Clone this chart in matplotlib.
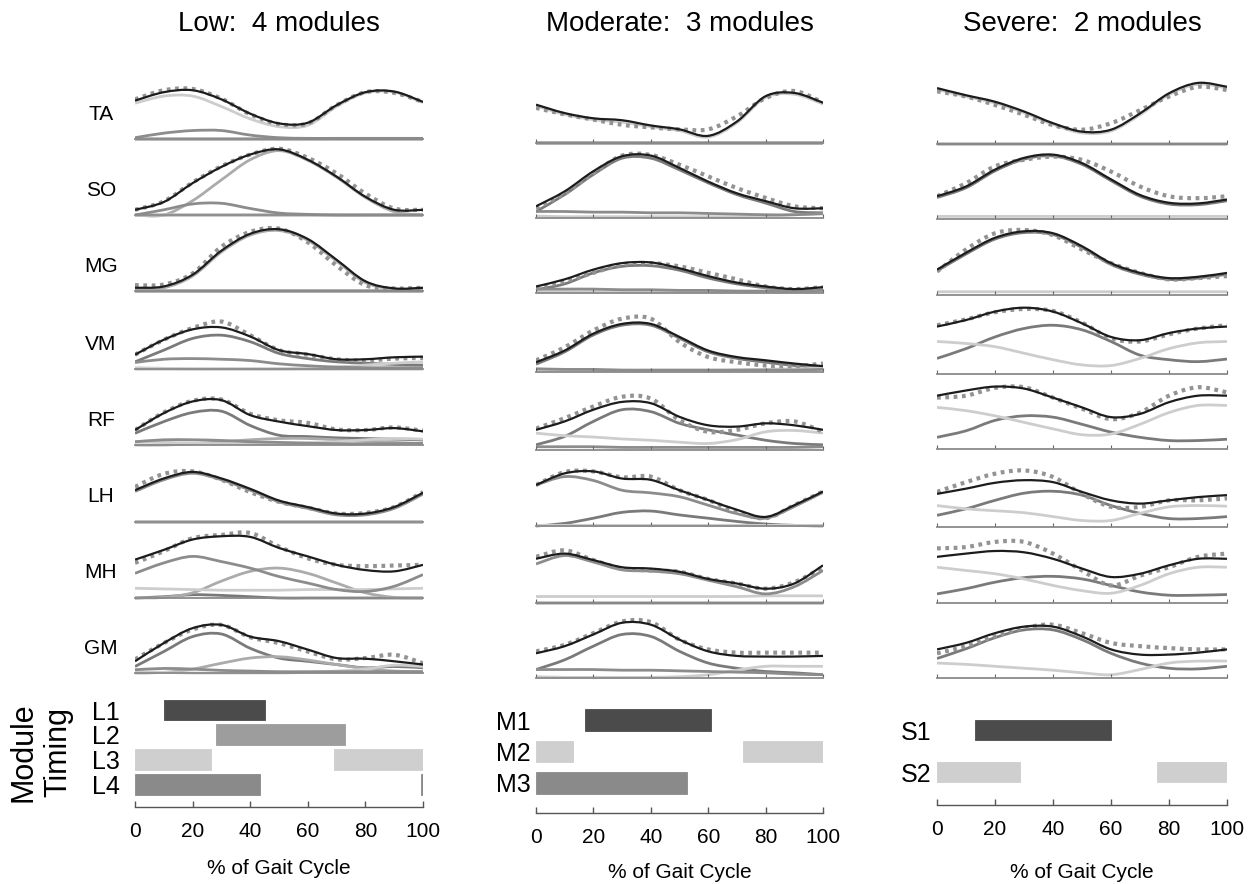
"""Muscle EMG reconstruction by motor modules, three impairment levels."""

import matplotlib

matplotlib.use("Agg")
import matplotlib.pyplot as plt
import numpy as np
from matplotlib.patches import PathPatch
from matplotlib.path import Path

plt.rcParams["font.family"] = ["Liberation Sans", "DejaVu Sans"]

MUSCLES = ["TA", "SO", "MG", "VM", "RF", "LH", "MH", "GM"]
PCT = [0, 10, 20, 30, 40, 50, 60, 70, 80, 90, 100]
TICKS = [0, 20, 40, 60, 80, 100]

# ---- Low: 4 modules (EMG = measured, FIT = reconstruction, MODS = L1..L4) ----
LOW_TA_EMG = [.61, .75, .77, .62, .38, .23, .24, .52, .72, .71, .57]
LOW_TA_FIT = [.59, .72, .75, .61, .39, .24, .25, .52, .72, .73, .57]
LOW_TA_MODS = [[0, 0, 0, 0, 0, 0, 0, 0, 0, 0, 0],
               [0, 0, 0, 0, 0, 0, 0, 0, 0, 0, 0],
               [.55, .66, .66, .50, .31, .19, .21, .50, .71, .72, .56],
               [.02, .09, .13, .13, .06, .02, .01, .01, .01, .01, .01]]
LOW_SO_EMG = [.08, .21, .50, .75, .93, 1.02, .88, .64, .33, .10, .08]
LOW_SO_FIT = [.08, .20, .49, .74, .93, 1.01, .85, .59, .28, .08, .08]
LOW_SO_MODS = [[0, 0, 0, 0, 0, 0, 0, 0, 0, 0, 0],
               [0, 0, .22, .54, .85, .99, .84, .58, .27, .05, 0],
               [0, 0, 0, 0, 0, 0, 0, 0, 0, 0, 0],
               [0, .08, .17, .18, .10, .03, .01, 0, 0, 0, 0]]
LOW_MG_EMG = [.09, .10, .27, .68, .91, .96, .75, .39, .09, .04, .05]
LOW_MG_FIT = [.05, .07, .25, .62, .88, .95, .80, .48, .15, .04, .05]
LOW_MG_MODS = [[0, 0, 0, 0, 0, 0, 0, 0, 0, 0, 0],
               [.03, .05, .23, .60, .86, .93, .78, .46, .13, .03, .03],
               [0, 0, 0, 0, 0, 0, 0, 0, 0, 0, 0],
               [0, 0, 0, 0, 0, 0, 0, 0, 0, 0, 0]]
LOW_VM_EMG = [.22, .45, .63, .73, .52, .29, .22, .15, .13, .16, .17]
LOW_VM_FIT = [.22, .45, .61, .64, .50, .29, .23, .15, .15, .18, .19]
LOW_VM_MODS = [[.11, .29, .47, .52, .42, .24, .16, .11, .09, .07, .06],
               [0, 0, 0, 0, 0, 0, 0, 0, 0, 0, 0],
               [.02, .01, 0, 0, 0, 0, .01, .03, .06, .09, .11],
               [.10, .15, .16, .15, .13, .08, .05, .03, .02, .02, .02]]
LOW_RF_EMG = [.23, .50, .68, .70, .48, .38, .34, .24, .23, .27, .22]
LOW_RF_FIT = [.23, .49, .67, .69, .46, .36, .29, .23, .23, .26, .21]
LOW_RF_MODS = [[.18, .36, .50, .52, .30, .15, .13, .11, .10, .09, .08],
               [0, 0, .02, .05, .08, .10, .10, .08, .06, .04, .02],
               [.05, .04, .03, .02, .02, .02, .03, .05, .08, .10, .09],
               [.05, .08, .08, .07, .05, .04, .03, .02, .02, .02, .03]]
LOW_LH_EMG = [.54, .74, .78, .65, .46, .31, .22, .13, .14, .23, .46]
LOW_LH_FIT = [.49, .67, .77, .67, .51, .33, .23, .13, .13, .23, .45]
LOW_LH_MODS = [[0, 0, 0, 0, 0, 0, 0, 0, 0, 0, 0],
               [0, 0, 0, 0, 0, 0, 0, 0, 0, 0, 0],
               [0, 0, 0, 0, 0, 0, 0, 0, 0, 0, 0],
               [.47, .65, .75, .65, .49, .31, .21, .11, .11, .21, .43]]
LOW_MH_EMG = [.54, .72, .92, .97, 1.0, .79, .61, .51, .49, .50, .51]
LOW_MH_FIT = [.59, .74, .90, .95, .94, .77, .64, .51, .43, .41, .51]
LOW_MH_MODS = [[0, .02, .05, .04, .02, 0, 0, 0, 0, 0, 0],
               [0, .01, .08, .26, .41, .46, .38, .23, .08, .01, 0],
               [.15, .14, .13, .12, .12, .12, .13, .13, .13, .14, .15],
               [.38, .54, .64, .56, .46, .33, .23, .13, .10, .18, .36]]
LOW_GM_EMG = [.21, .46, .67, .74, .55, .46, .33, .21, .23, .28, .15]
LOW_GM_FIT = [.18, .46, .69, .74, .56, .49, .36, .23, .22, .18, .13]
LOW_GM_MODS = [[.10, .33, .56, .60, .38, .23, .18, .13, .08, .10, .08],
               [0, .01, .06, .15, .23, .25, .20, .13, .07, .03, .02],
               [.02, .01, 0, 0, 0, 0, .01, .03, .06, .12, .10],
               [.05, .07, .06, .04, .03, .02, .02, .02, .02, .02, .02]]

# ---- Moderate: 3 modules (M1..M3) ----
MOD_TA_EMG = [.54, .44, .36, .28, .24, .21, .21, .41, .69, .80, .62]
MOD_TA_FIT = [.59, .46, .38, .35, .27, .21, .11, .33, .72, .77, .62]
MOD_TA_MODS = [[0, 0, 0, 0, 0, 0, 0, 0, 0, 0, 0],
               [.57, .44, .36, .32, .25, .19, .09, .31, .70, .75, .60],
               [0, 0, 0, 0, 0, 0, 0, 0, 0, 0, 0]]
MOD_SO_EMG = [.15, .38, .69, .96, .97, .82, .64, .46, .31, .18, .15]
MOD_SO_FIT = [.18, .41, .72, .95, .96, .77, .56, .38, .26, .15, .15]
MOD_SO_MODS = [[.10, .36, .67, .92, .92, .74, .54, .36, .23, .10, .08],
               [.03, .02, .02, .02, .02, .02, .02, .02, .03, .05, .06],
               [.10, .10, .09, .09, .08, .08, .07, .06, .05, .05, .07]]
MOD_MG_EMG = [.08, .18, .31, .44, .46, .41, .31, .21, .10, .06, .09]
MOD_MG_FIT = [.10, .21, .36, .46, .47, .38, .26, .16, .10, .06, .09]
MOD_MG_MODS = [[.05, .14, .31, .41, .42, .35, .23, .14, .08, .04, .05],
               [.02, .02, .02, .02, .02, .02, .02, .02, .02, .02, .02],
               [.06, .06, .06, .05, .05, .04, .04, .03, .03, .03, .04]]
MOD_VM_EMG = [.18, .38, .64, .82, .82, .46, .23, .15, .10, .09, .13]
MOD_VM_FIT = [.15, .33, .59, .74, .74, .54, .33, .23, .18, .13, .09]
MOD_VM_MODS = [[.12, .31, .57, .72, .72, .52, .31, .21, .15, .10, .06],
               [.02, .02, .02, .02, .02, .02, .02, .03, .04, .05, .06],
               [.05, .04, .04, .03, .03, .03, .03, .03, .03, .03, .04]]
MOD_RF_EMG = [.33, .49, .67, .82, .79, .46, .28, .31, .41, .44, .28]
MOD_RF_FIT = [.31, .44, .62, .74, .72, .51, .38, .36, .41, .38, .31]
MOD_RF_MODS = [[.08, .21, .44, .62, .59, .41, .31, .23, .15, .10, .08],
               [.26, .22, .20, .17, .15, .12, .10, .16, .28, .30, .26],
               [.05, .05, .05, .04, .04, .04, .04, .04, .04, .04, .05]]
MOD_LH_EMG = [.63, .83, .84, .75, .76, .55, .40, .22, .12, .32, .53]
MOD_LH_FIT = [.63, .81, .84, .73, .71, .55, .40, .25, .14, .32, .53]
MOD_LH_MODS = [[0, .04, .12, .21, .23, .17, .12, .07, .03, .01, 0],
               [.01, .01, .01, .01, .01, .01, .01, .01, .01, .01, .01],
               [.63, .76, .70, .55, .51, .45, .32, .19, .12, .30, .52]]
MOD_MH_EMG = [.71, .81, .66, .53, .50, .48, .37, .30, .22, .32, .55]
MOD_MH_FIT = [.68, .76, .66, .55, .53, .48, .37, .30, .22, .30, .58]
MOD_MH_MODS = [[0, 0, 0, 0, 0, 0, 0, 0, 0, 0, 0],
               [.10, .10, .10, .10, .10, .10, .10, .10, .11, .11, .11],
               [.60, .73, .63, .51, .49, .45, .35, .25, .14, .25, .50]]
MOD_GM_EMG = [.41, .51, .69, .87, .86, .59, .44, .39, .39, .39, .39]
MOD_GM_FIT = [.38, .49, .67, .85, .82, .59, .41, .34, .33, .33, .34]
MOD_GM_MODS = [[.13, .28, .49, .67, .64, .41, .23, .15, .10, .08, .05],
               [.02, .01, .01, .01, .01, .02, .05, .12, .18, .18, .18],
               [.13, .13, .13, .12, .12, .11, .10, .09, .08, .06, .05]]

# ---- Severe: 2 modules (S1, S2) ----
SEV_TA_EMG = [.81, .73, .60, .45, .29, .22, .32, .52, .73, .88, .83]
SEV_TA_FIT = [.86, .75, .65, .50, .32, .19, .22, .47, .78, .94, .88]
SEV_TA_MODS = [[0, 0, 0, 0, 0, 0, 0, 0, 0, 0, 0],
               [.84, .73, .63, .48, .30, .17, .20, .45, .76, .92, .86]]
SEV_SO_EMG = [.35, .55, .81, .91, .96, .91, .73, .50, .35, .32, .35]
SEV_SO_FIT = [.35, .50, .76, .94, .99, .86, .61, .37, .25, .24, .30]
SEV_SO_MODS = [[.33, .48, .74, .92, .97, .84, .59, .35, .23, .22, .28],
               [.04, .04, .04, .04, .04, .04, .04, .04, .04, .04, .04]]
SEV_MG_EMG = [.36, .70, .95, 1.0, .92, .70, .49, .34, .24, .26, .29]
SEV_MG_FIT = [.39, .65, .88, .98, .95, .75, .49, .34, .26, .28, .34]
SEV_MG_MODS = [[.37, .63, .86, .96, .93, .73, .47, .32, .24, .26, .32],
               [.05, .05, .05, .05, .05, .05, .05, .05, .05, .05, .05]]
SEV_VM_EMG = [.75, .84, .95, 1.0, .97, .79, .55, .50, .61, .70, .75]
SEV_VM_FIT = [.73, .83, .96, 1.02, .96, .78, .57, .52, .63, .70, .73]
SEV_VM_MODS = [[.24, .39, .57, .70, .75, .68, .50, .29, .22, .19, .23],
               [.50, .47, .42, .32, .22, .14, .13, .24, .39, .48, .50]]
SEV_RF_EMG = [.79, .82, .94, .95, .79, .62, .46, .56, .82, .95, .87]
SEV_RF_FIT = [.82, .90, .96, .93, .79, .64, .49, .54, .72, .82, .82]
SEV_RF_MODS = [[.18, .28, .44, .51, .49, .38, .26, .18, .13, .13, .15],
               [.64, .59, .51, .41, .31, .22, .23, .38, .56, .67, .67]]
SEV_LH_EMG = [.54, .69, .82, .87, .77, .51, .31, .31, .41, .41, .44]
SEV_LH_FIT = [.51, .59, .68, .72, .69, .54, .41, .36, .41, .46, .49]
SEV_LH_MODS = [[.18, .28, .41, .52, .55, .49, .33, .21, .13, .13, .16],
               [.33, .28, .25, .22, .16, .10, .10, .21, .31, .33, .32]]
SEV_MH_EMG = [.84, .86, .94, .94, .76, .50, .27, .42, .55, .71, .76]
SEV_MH_FIT = [.71, .76, .80, .78, .68, .53, .40, .45, .58, .68, .68]
SEV_MH_MODS = [[.14, .22, .32, .39, .41, .37, .27, .17, .12, .12, .13],
               [.55, .50, .45, .37, .27, .19, .15, .27, .45, .55, .55]]
SEV_GM_EMG = [.38, .49, .64, .77, .82, .69, .54, .49, .46, .44, .44]
SEV_GM_FIT = [.44, .54, .69, .79, .79, .64, .44, .36, .36, .39, .44]
SEV_GM_MODS = [[.30, .45, .62, .74, .74, .59, .38, .23, .15, .14, .18],
               [.23, .21, .18, .15, .12, .08, .05, .13, .23, .26, .26]]

# ---- Module timing: active intervals (% of gait cycle) ----
LOW_MODULES = ["L1", "L2", "L3", "L4"]
LOW_TIMING = [[(10, 45)], [(28, 73)], [(0, 26.5), (69, 100)], [(0, 43.5), (99.3, 100)]]
MOD_MODULES = ["M1", "M2", "M3"]
MOD_TIMING = [[(17, 61)], [(0, 13), (72, 100)], [(0, 52.5)]]
SEV_MODULES = ["S1", "S2"]
SEV_TIMING = [[(13, 60)], [(0, 28.5), (76, 100)]]

TITLES = ["Low:  4 modules", "Moderate:  3 modules", "Severe:  2 modules"]

# layout (pixels of the 1260 x 884 canvas)
W, H = 1260, 884
UNIT = 65.0
COL_X = [(135, 423), (536, 823), (937, 1227)]
BASELINES = [
    [139, 215, 291, 369, 445, 522, 598, 673],
    [143, 218, 293, 372, 450, 526, 603, 678],
    [144, 219, 295, 374, 449, 527, 603, 678],
]
# row0 centre, row spacing, axis line, top of axes, bar height, ylabel pad, xlabel pad
BAR_GEOM = [
    (710, 24.7, 807, 695, 0.85, 11, 13),
    (720, 31.5, 813, 700, 0.67, 4, 11),
    (730, 42.0, 805, 700, 0.48, 4, 17),
]
LOW_LINE_COLORS = ["#7a7a7a", "#ababab", "#cdcdcd", "#8c8c8c"]
MOD_LINE_COLORS = ["#7a7a7a", "#cdcdcd", "#8c8c8c"]
SEV_LINE_COLORS = ["#7a7a7a", "#cdcdcd"]
LOW_BAR_COLORS = ["#4b4b4b", "#9d9d9d", "#cfcfcf", "#8a8a8a"]
MOD_BAR_COLORS = ["#4b4b4b", "#cfcfcf", "#8a8a8a"]
SEV_BAR_COLORS = ["#4b4b4b", "#cfcfcf"]


def px_axes(fig, x0, x1, ytop, ybot):
    return fig.add_axes([x0 / W, 1 - ybot / H, (x1 - x0) / W, (ybot - ytop) / H])


def smooth_path(x, y):
    pts = np.column_stack([x, y]).astype(float)
    ext = np.vstack([pts[0], pts, pts[-1]])
    verts = [pts[0]]
    codes = [Path.MOVETO]
    for i in range(len(pts) - 1):
        p0, p1, p2, p3 = ext[i], ext[i + 1], ext[i + 2], ext[i + 3]
        verts += [p1 + (p2 - p0) / 6.0, p2 - (p3 - p1) / 6.0, p2]
        codes += [Path.CURVE4] * 3
    return Path(verts, codes)


def draw_curve(ax, y, **kw):
    ax.add_patch(PathPatch(smooth_path(PCT, y), fill=False, **kw))


def muscle_panel(ax, emg, fit, mods, colors, ticks):
    for values, color in zip(mods, colors):
        draw_curve(ax, values, edgecolor=color, linewidth=2.0, zorder=1)
    draw_curve(ax, emg, edgecolor="#939393", linewidth=3.0,
               linestyle=(0, (0.9, 1.1)), capstyle="butt", zorder=2)
    draw_curve(ax, fit, edgecolor="#1c1c1c", linewidth=1.6, zorder=3)
    ax.set_xlim(0, 100)
    ax.set_ylim(-0.06, 1.1)
    for side in ["top", "right", "left"]:
        ax.spines[side].set_visible(False)
    ax.spines["bottom"].set_color("#8a8a8a")
    ax.spines["bottom"].set_linewidth(1.3)
    ax.spines["bottom"].set_position(("data", 0))
    ax.set_yticks([])
    if ticks:
        ax.set_xticks(TICKS)
        ax.tick_params(axis="x", direction="in", length=3, width=0.8,
                       color="#666666", labelbottom=False)
    else:
        ax.set_xticks([])
    ax.patch.set_alpha(0)


def timing_panel(ax, labels, timing, colors, geom):
    row0, step, axis_px, top_px, bar_h, ypad, xpad = geom
    for row, (spans, color) in enumerate(zip(timing, colors)):
        for start, end in spans:
            ax.barh(row, end - start, left=start, height=bar_h, color=color,
                    edgecolor=color, linewidth=0.6)
    ax.set_xlim(0, 100)
    ax.set_ylim((axis_px - row0) / step, (top_px - row0) / step)
    for side in ["top", "right", "left"]:
        ax.spines[side].set_visible(False)
    ax.spines["bottom"].set_color("#555555")
    ax.spines["bottom"].set_linewidth(1.0)
    ax.set_yticks(range(len(labels)), labels, fontsize=18)
    ax.tick_params(axis="y", length=0, pad=ypad)
    ax.set_xticks(TICKS)
    ax.tick_params(axis="x", direction="in", length=4, width=1.0,
                   color="#555555", labelsize=15, pad=11)
    ax.set_xlabel("% of Gait Cycle", fontsize=15, labelpad=xpad)
    ax.patch.set_alpha(0)


fig = plt.figure(figsize=(W / 100, H / 100), dpi=100)

columns = [
    ("LOW", LOW_LINE_COLORS, LOW_MODULES, LOW_TIMING, LOW_BAR_COLORS),
    ("MOD", MOD_LINE_COLORS, MOD_MODULES, MOD_TIMING, MOD_BAR_COLORS),
    ("SEV", SEV_LINE_COLORS, SEV_MODULES, SEV_TIMING, SEV_BAR_COLORS),
]
data = globals()
for c, (tag, line_colors, mod_names, timing, bar_colors) in enumerate(columns):
    x0, x1 = COL_X[c]
    fig.text((x0 + x1) / 2 / W, 1 - 24 / H, TITLES[c], ha="center", va="center",
             fontsize=20)
    for m, muscle in enumerate(MUSCLES):
        base = BASELINES[c][m]
        ax = px_axes(fig, x0, x1, base - 1.1 * UNIT, base + 0.06 * UNIT)
        muscle_panel(ax, data[f"{tag}_{muscle}_EMG"], data[f"{tag}_{muscle}_FIT"],
                     data[f"{tag}_{muscle}_MODS"], line_colors, ticks=c > 0)
        if c == 0:
            fig.text(101 / W, 1 - (base - 25) / H, muscle, ha="center",
                     va="center", fontsize=15)
    geom = BAR_GEOM[c]
    bax = px_axes(fig, x0, x1, geom[3], geom[2])
    timing_panel(bax, mod_names, timing, bar_colors, geom)

fig.text(23 / W, 1 - 752 / H, "Module", rotation=90, ha="center", va="center",
         fontsize=22)
fig.text(58 / W, 1 - 752 / H, "Timing", rotation=90, ha="center", va="center",
         fontsize=22)

fig.savefig("out.png", dpi=100)
